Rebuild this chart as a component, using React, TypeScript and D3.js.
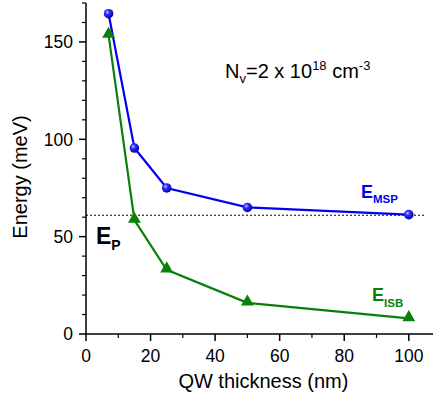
import React from 'react';
import * as d3 from 'd3';

// QW thickness (nm)
const thickness = [7, 15, 25, 50, 100];
// Energies (meV)
const eMSP = [164.5, 95.5, 75, 65, 61.3];
const eISB = [153.5, 58.5, 33, 16, 8];
const ePlasma = 61;

const xTicks = [0, 20, 40, 60, 80, 100];
const yTicks = [0, 50, 100, 150];

const blue = '#0000f0';
const green = '#0a800a';
const font = 'Liberation Sans, Arial, sans-serif';

const W = 436;
const H = 401;
const margin = { top: 3, right: 3, bottom: 67, left: 86 };

const App = () => {
  const x = d3.scaleLinear().domain([0, 107.5]).range([margin.left, W - margin.right]);
  const y = d3.scaleLinear().domain([0, 170]).range([H - margin.bottom, margin.top]);
  const line = d3.line<number>().x((d, i) => x(thickness[i])).y((d) => d);
  const mspPath = line(eMSP.map((v) => y(v)));
  const isbPath = line(eISB.map((v) => y(v)));
  const tri = d3.symbol().type(d3.symbolTriangle).size(72);

  const xMinor = d3.range(10, 107, 20);
  const yMinor = d3.range(0, 171, 10).filter((v) => v % 50 !== 0);
  const x0 = x(0);
  const y0 = y(0);

  return (
    <svg width={W} height={H} style={{ position: 'absolute', left: 0, top: 0 }} fontFamily={font}>
      <defs>
        <radialGradient id="ball" cx="0.38" cy="0.35" r="0.65">
          <stop offset="0" stopColor="#c8c8ff" />
          <stop offset="0.35" stopColor="#3030ff" />
          <stop offset="1" stopColor="#0000a0" />
        </radialGradient>
      </defs>

      {/* reference line E_P */}
      <line x1={x0} x2={x(105)} y1={y(ePlasma)} y2={y(ePlasma)} stroke="#000" strokeWidth={1} strokeDasharray="2,2" />

      {/* axes */}
      <line x1={x0} x2={x0} y1={y(170)} y2={y0} stroke="#000" strokeWidth={1.5} />
      <line x1={x0} x2={W - margin.right} y1={y0} y2={y0} stroke="#000" strokeWidth={1.5} />
      {yTicks.map((t) => (
        <g key={'y' + t}>
          <line x1={x0 - 7} x2={x0} y1={y(t)} y2={y(t)} stroke="#000" strokeWidth={1.5} />
          <text x={x0 - 13} y={y(t)} dy="0.36em" textAnchor="end" fontSize={17.5}>{t}</text>
        </g>
      ))}
      {yMinor.map((t) => (
        <line key={'ym' + t} x1={x0 - 4} x2={x0} y1={y(t)} y2={y(t)} stroke="#000" strokeWidth={1.2} />
      ))}
      {xTicks.map((t) => (
        <g key={'x' + t}>
          <line x1={x(t)} x2={x(t)} y1={y0} y2={y0 + 7} stroke="#000" strokeWidth={1.5} />
          <text x={x(t)} y={y0 + 28} textAnchor="middle" fontSize={17.5}>{t}</text>
        </g>
      ))}
      {xMinor.map((t) => (
        <line key={'xm' + t} x1={x(t)} x2={x(t)} y1={y0} y2={y0 + 4} stroke="#000" strokeWidth={1.2} />
      ))}

      <text x={(x0 + x(100)) / 2 + 16} y={388} textAnchor="middle" fontSize={20}>QW thickness (nm)</text>
      <text transform={`translate(27, 177) rotate(-90)`} textAnchor="middle" fontSize={20}>Energy (meV)</text>

      {/* series */}
      <path d={isbPath ?? ''} fill="none" stroke={green} strokeWidth={2.2} />
      <path d={mspPath ?? ''} fill="none" stroke={blue} strokeWidth={2.2} />
      {eISB.map((v, i) => (
        <path key={'t' + i} d={tri() ?? ''} transform={`translate(${x(thickness[i])},${y(v) - 1})`} fill={green} />
      ))}
      {eMSP.map((v, i) => (
        <circle key={'c' + i} cx={x(thickness[i])} cy={y(v)} r={4.8} fill="url(#ball)" />
      ))}

      {/* annotations */}
      <text x={225} y={78} fontSize={20}>
        N<tspan fontSize={13} dy={5}>v</tspan>
        <tspan dy={-5}>=2 x 10</tspan>
        <tspan fontSize={13} dy={-8}>18</tspan>
        <tspan dy={8}> cm</tspan>
        <tspan fontSize={13} dy={-8}>-3</tspan>
      </text>
      <text x={361} y={198} fontSize={18} fontWeight="bold" fill={blue}>
        E<tspan fontSize={11.5} dy={5}>MSP</tspan>
      </text>
      <text x={372} y={301} fontSize={18} fontWeight="bold" fill={green}>
        E<tspan fontSize={11.5} dy={6}>ISB</tspan>
      </text>
      <text x={96} y={244} fontSize={23} fontWeight="bold" fill="#000">
        E<tspan fontSize={14} dy={6}>P</tspan>
      </text>
    </svg>
  );
};

export default App;
